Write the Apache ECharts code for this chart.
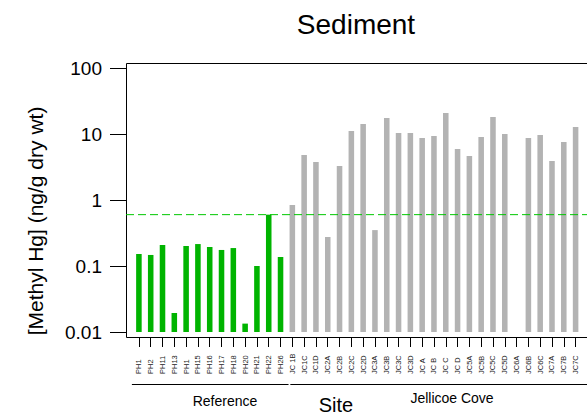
<!DOCTYPE html>
<html><head><meta charset="utf-8">
<script src="https://cdn.jsdelivr.net/npm/echarts@6/dist/echarts.min.js"></script>
<style>html,body{margin:0;padding:0;background:#fff}#c{width:587px;height:416px}</style>
</head><body><div id="c"></div>
<script>
// ---- data ----
const refSites = ['PH1','PH2','PH11','PH13','PH1','PH15','PH16','PH17','PH18','PH20','PH21','PH22','PH26'];
const refValues = [0.152,0.147,0.208,0.0194,0.201,0.215,0.194,0.175,0.187,0.0134,0.100,0.600,0.137];
const jcSites = ['JC 1B','JC1C','JC1D','JC2A','JC2B','JC2C','JC2D','JC3A','JC3B','JC3C','JC3D','JC A','JC B',
                 'JC C','JC D','JC5A','JC5B','JC5C','JC5D','JC6A','JC6B','JC6C','JC7A','JC7B','JC7C'];
const jcValues = [0.84,4.8,3.76,0.275,3.27,11.1,14.2,0.35,17.5,10.4,10.4,8.7,9.3,
                  20.8,5.93,4.64,9.0,18.1,10.0,null,8.7,9.66,3.9,7.57,12.8];
const yTicks = [0.01,0.1,1,10,100];
const threshold = 0.6;
const groupNames = ['Reference','Jellicoe Cove'];

const categories = refSites.concat(jcSites);
const refData = refValues.map((v,i)=>[i,v]);
const jcData = jcValues.map((v,i)=>[i+refSites.length,v]).filter(d=>d[1]!=null);

const FONT = 'Liberation Sans, Arial, sans-serif';
function barItem(color){
  return function(params, api){
    const i = api.value(0), v = api.value(1);
    const top = api.coord([i, v]);
    const base = api.coord([i, yTicks[0]]);
    const w = api.size([1,0])[0]*0.47;
    return {type:'rect', shape:{x: top[0]-w/2, y: top[1], width: w, height: base[1]-top[1]},
            style:{fill: color}};
  };
}

const chart = echarts.init(document.getElementById('c'), null, {renderer:'svg'});
chart.setOption({
  animation:false,
  backgroundColor:'#fff',
  grid:{left:133, right:5.5, top:68, bottom:84, containLabel:false},
  xAxis:{type:'category', data:categories, offset:5,
    axisLine:{show:false},
    axisTick:{show:true, alignWithLabel:true, length:10, lineStyle:{color:'#000',width:1}},
    axisLabel:{interval:0, rotate:90, align:'left', margin:37, fontSize:7.5, color:'#222', fontFamily:FONT}},
  yAxis:{type:'log', logBase:10, min:yTicks[0], max:yTicks[yTicks.length-1], offset:7,
    axisLine:{show:true, lineStyle:{color:'#000'}},
    axisTick:{show:true, length:16, lineStyle:{color:'#000'}},
    splitLine:{show:false},
    axisLabel:{margin:24, fontSize:19, color:'#000', fontFamily:FONT,
      formatter:v=>{let best=yTicks[0];yTicks.forEach(t=>{if(Math.abs(Math.log10(t)-Math.log10(v))<Math.abs(Math.log10(best)-Math.log10(v)))best=t;});return String(best);}}},
  series:[
    {type:'custom', name:groupNames[0], data:refData, renderItem:barItem('#00B400'), encode:{x:0,y:1}},
    {type:'custom', name:groupNames[1], data:jcData, renderItem:barItem('#B3B3B3'), encode:{x:0,y:1}}
  ]
});

const yT = chart.convertToPixel({yAxisIndex:0}, threshold);
const firstRef = chart.convertToPixel({xAxisIndex:0}, 0);
const lastRef = chart.convertToPixel({xAxisIndex:0}, refSites.length-1);
const firstJc = chart.convertToPixel({xAxisIndex:0}, refSites.length);
const lastJc = chart.convertToPixel({xAxisIndex:0}, categories.length-1);
chart.setOption({graphic:[
  {type:'rect', shape:{x:126.5, y:63.5, width:480, height:274}, style:{fill:null, stroke:'#000', lineWidth:1}, z:50, silent:true},
  {type:'line', shape:{x1:126, y1:yT, x2:600, y2:yT}, style:{stroke:'#00C800', lineWidth:1, lineDash:[8,4]}, z:60},
  {type:'line', shape:{x1:firstRef-7, y1:384.5, x2:lastRef+8, y2:384.5}, style:{stroke:'#000', lineWidth:1}},
  {type:'line', shape:{x1:firstJc-2, y1:384.5, x2:lastJc+20, y2:384.5}, style:{stroke:'#000', lineWidth:1}},
  {type:'text', x:225, y:401, style:{text:groupNames[0], fontSize:14, fontFamily:FONT, fill:'#000', textAlign:'center', textVerticalAlign:'middle'}},
  {type:'text', x:452, y:398, style:{text:groupNames[1], fontSize:14, fontFamily:FONT, fill:'#000', textAlign:'center', textVerticalAlign:'middle'}},
  {type:'text', x:336, y:405, style:{text:'Site', fontSize:20, fontFamily:FONT, fill:'#000', textAlign:'center', textVerticalAlign:'middle'}},
  {type:'text', x:356, y:24, style:{text:'Sediment', fontSize:28, fontFamily:FONT, fill:'#000', textAlign:'center', textVerticalAlign:'middle'}},
  {type:'text', x:35, y:221, rotation:Math.PI/2, style:{text:'[Methyl Hg] (ng/g dry wt)', fontSize:21, fontFamily:FONT, fill:'#000', textAlign:'center', textVerticalAlign:'middle'}}
]});
</script></body></html>
